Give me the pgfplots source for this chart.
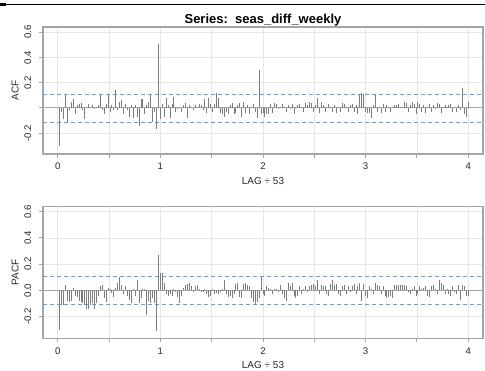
\documentclass[border=0pt]{standalone}
\usepackage{fontspec}
\setmainfont{Liberation Sans}
\usepackage{pgfplots}
\usepackage{pgfplotstable}
\pgfplotsset{compat=1.18}
\definecolor{barcol}{RGB}{125,125,125}
\definecolor{bandcol}{RGB}{95,160,238}
\definecolor{gridcol}{RGB}{230,230,230}
\definecolor{boxcol}{RGB}{165,165,165}
\pgfplotstableread{
lag acf pacf
1 -0.30 -0.30
2 -0.03 -0.11
3 -0.09 -0.11
4 0.10 0.04
5 -0.11 -0.08
6 -0.02 -0.09
7 0.05 -0.08
8 0.07 0.02
9 -0.05 -0.04
10 0.02 -0.05
11 0.03 -0.08
12 0.04 -0.09
13 -0.02 -0.10
14 -0.09 -0.11
15 0.01 -0.14
16 0.03 -0.14
17 0.01 -0.11
18 0.02 -0.10
19 -0.01 -0.14
20 0.01 -0.10
21 0.02 -0.04
22 0.10 0.03
23 -0.02 0.04
24 -0.05 -0.06
25 0.03 -0.09
26 0.10 0.02
27 -0.03 0.01
28 0.02 -0.02
29 -0.02 -0.05
30 0.14 0.02
31 -0.02 0.06
32 0.05 0.10
33 0.06 0.04
34 -0.05 -0.03
35 0.03 0.03
36 -0.02 -0.04
37 -0.07 -0.07
38 0.02 -0.10
39 -0.08 0.01
40 0.02 -0.04
41 -0.07 0.08
42 -0.14 -0.10
43 0.07 -0.06
44 0.07 0.01
45 -0.05 0.01
46 0.02 -0.19
47 0.05 -0.08
48 0.10 -0.10
49 -0.11 -0.06
50 -0.03 -0.10
51 -0.17 -0.31
52 0.51 0.27
53 -0.09 0.13
54 0.03 0.13
55 -0.07 0.06
56 0.08 -0.03
57 0.02 -0.04
58 -0.08 -0.03
59 0.03 -0.04
60 0.09 0.01
61 -0.03 -0.01
62 -0.01 -0.05
63 0.01 -0.10
64 -0.03 -0.04
65 0.02 0.02
66 0.04 0.04
67 -0.08 0.05
68 0.02 0.06
69 0.01 0.03
70 -0.02 -0.01
71 0.02 0.03
72 0.01 0.04
73 0.03 0.01
74 0.02 -0.01
75 -0.02 -0.01
76 0.07 0.01
77 -0.04 -0.03
78 0.08 -0.05
79 0.03 -0.04
80 -0.03 0.01
81 0.03 -0.03
82 0.12 -0.02
83 0.08 -0.03
84 -0.04 -0.01
85 -0.05 0.01
86 -0.07 0.08
87 -0.03 -0.03
88 -0.05 -0.05
89 0.02 -0.04
90 0.04 -0.06
91 -0.05 -0.03
92 -0.04 0.05
93 0.02 0.06
94 0.04 -0.05
95 -0.07 -0.06
96 0.05 0.05
97 -0.04 0.06
98 0.02 0.04
99 -0.05 0.03
100 0.01 -0.06
101 0.03 -0.09
102 -0.03 -0.11
103 -0.08 -0.09
104 0.30 -0.06
105 -0.05 0.10
106 -0.04 -0.03
107 -0.07 -0.04
108 -0.05 0.03
109 -0.05 0.02
110 0.03 0.01
111 -0.04 -0.03
112 0.04 0.01
113 0.03 0.01
114 -0.01 -0.01
115 0.01 0.04
116 0.03 -0.03
117 0.01 -0.06
118 -0.03 -0.08
119 0.02 0.06
120 -0.01 0.03
121 0.03 0.06
122 -0.05 -0.04
123 0.01 -0.06
124 0.02 -0.04
125 0.03 0.03
126 0.01 -0.03
127 -0.03 0.01
128 0.04 0.03
129 0.02 -0.01
130 0.05 0.03
131 0.04 0.04
132 -0.03 0.05
133 0.02 0.03
134 0.08 0.08
135 -0.04 -0.03
136 0.05 0.04
137 0.02 0.03
138 -0.03 0.03
139 0.01 -0.03
140 0.03 -0.04
141 0.01 0.05
142 -0.03 0.08
143 0.02 0.04
144 -0.04 0.05
145 0.01 -0.03
146 -0.03 -0.04
147 0.04 0.03
148 0.03 0.04
149 0.01 -0.03
150 -0.03 0.03
151 0.02 -0.01
152 0.03 0.03
153 -0.03 0.05
154 0.02 -0.03
155 -0.05 0.03
156 0.11 0.06
157 0.12 -0.08
158 0.11 0.05
159 -0.03 -0.04
160 -0.04 -0.06
161 -0.04 0.03
162 -0.08 0.01
163 0.02 -0.03
164 0.11 0.06
165 -0.03 0.04
166 0.01 0.03
167 -0.04 -0.03
168 0.03 0.03
169 -0.03 -0.04
170 0.02 -0.06
171 0.01 -0.05
172 -0.03 -0.04
173 0.01 -0.06
174 0.02 0.04
175 0.02 0.04
176 0.03 0.04
177 0.01 0.04
178 0.01 0.04
179 0.05 0.04
180 0.04 0.03
181 -0.03 -0.01
182 0.02 -0.03
183 0.05 0.01
184 0.03 0.03
185 -0.05 -0.04
186 0.05 -0.03
187 0.03 0.03
188 -0.03 0.01
189 0.02 0.02
190 -0.04 0.03
191 0.01 -0.04
192 0.03 -0.05
193 -0.03 0.03
194 0.02 0.04
195 -0.01 0.01
196 0.04 -0.03
197 0.03 0.08
198 -0.04 0.06
199 0.01 0.04
200 0.02 -0.03
201 0.01 0.01
202 0.02 -0.03
203 0.03 -0.04
204 -0.03 0.03
205 0.01 -0.01
206 -0.03 -0.03
207 0.02 0.04
208 -0.02 -0.07
209 0.16 0.04
210 -0.05 0.03
211 -0.07 -0.04
212 0.05 -0.04
}\corrdata
\pgfplotsset{
  panel/.style={
    scale only axis, width=440bp,
    xmin=-7.6, xmax=219.6, ymin=-0.366, ymax=0.642,
    xtick={0,53,106,159,212}, xticklabels={0,1,2,3,4},
    minor xtick={26.5,79.5,132.5,185.5},
    ytick={-0.2,0,0.2,0.4,0.6},
    grid=both,
    major grid style={gridcol, line width=0.8bp},
    minor grid style={gridcol, line width=0.8bp},
    axis line style={boxcol, line width=1.1bp},
    tick align=outside, xtick pos=bottom, ytick pos=left,
    major tick length=4bp, minor tick length=4bp,
    every tick/.style={boxcol, line width=1bp},
    tick label style={font=\fontsize{9.6bp}{11bp}\selectfont, text=black!85},
    xticklabel style={anchor=base, yshift=-7bp},
    xticklabel shift=4.7bp,
    yticklabel style={rotate=90, anchor=base},
    yticklabel shift=8bp,
    label style={font=\fontsize{10bp}{12bp}\selectfont, text=black!85},
    xlabel={LAG ÷ 53},
    xlabel style={at={(axis description cs:0.5,0)}, anchor=base, yshift=-30bp},
    ylabel style={at={(axis description cs:-0.0555,0.5)}, anchor=base, rotate=0},
    clip=true,
  },
  band/.style={bandcol, line width=1.1bp, dash pattern=on 4bp off 3bp},
  bars/.style={ycomb, no markers, barcol, line width=0.9bp},
}
\begin{document}
\begin{tikzpicture}
\useasboundingbox (0,0) rectangle (485bp,-371bp);
\draw[black, line width=1.2bp] (0,-4.7bp) -- (485bp,-4.7bp);
\fill[black] (0,-3.4bp) rectangle (6bp,-6.2bp);
\begin{axis}[panel, height=127bp, at={(43bp,-154bp)}, anchor=south west,
  ylabel={ACF}, yticklabels={-0.2,,0.2,0.4,0.6},
  title={\bfseries Series:\ \ seas\_diff\_weekly},
  title style={font=\fontsize{13bp}{15bp}\selectfont, at={(axis description cs:0.5,1)}, anchor=base, yshift=-2.5bp}]
\addplot[gray!70, line width=0.9bp] coordinates {(-7.6,0) (219.6,0)};
\addplot[band] coordinates {(-7.6,0.107) (219.6,0.107)};
\addplot[band] coordinates {(-7.6,-0.113) (219.6,-0.113)};
\addplot[bars] table[x=lag, y=acf] {\corrdata};
\end{axis}
\begin{axis}[panel, height=132bp, at={(43bp,-338.3bp)}, anchor=south west,
  ylabel={PACF}, yticklabels={-0.2,0.0,0.2,0.4,0.6}]
\addplot[gray!70, line width=0.9bp] coordinates {(-7.6,0) (219.6,0)};
\addplot[band] coordinates {(-7.6,0.107) (219.6,0.107)};
\addplot[band] coordinates {(-7.6,-0.111) (219.6,-0.111)};
\addplot[bars] table[x=lag, y=pacf] {\corrdata};
\end{axis}
\end{tikzpicture}
\end{document}
